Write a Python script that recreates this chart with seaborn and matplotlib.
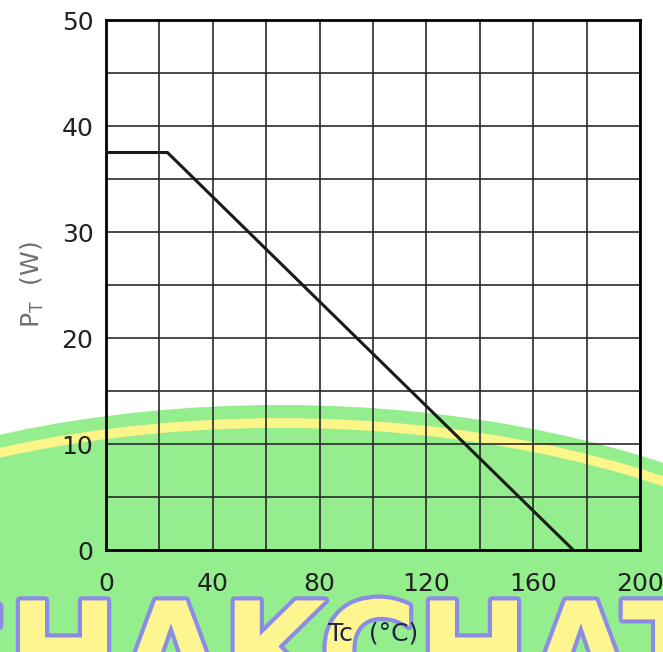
import numpy as np
import pandas as pd
import matplotlib
matplotlib.use("Agg")
import matplotlib.pyplot as plt
import matplotlib.patheffects as pe
from matplotlib.patches import Ellipse, Arc
import seaborn as sns

# derating curve
case_temp = [0, 23, 175]
power = [37.5, 37.5, 0]

x_ticks = [0, 40, 80, 120, 160, 200]
y_ticks = [0, 10, 20, 30, 40, 50]
x_grid = [0, 20, 40, 60, 80, 100, 120, 140, 160, 180, 200]
y_grid = [0, 5, 10, 15, 20, 25, 30, 35, 40, 45, 50]

df = pd.DataFrame({'Tc': case_temp, 'PT': power})

sns.set_style('white')
plt.rcParams['font.family'] = ['DejaVu Sans']

fig = plt.figure(figsize=(6.63, 6.52), dpi=100)
fig.patch.set_facecolor('white')

# watermark in the background
fig.patches.append(Ellipse((280 / 663, -108 / 652), 1400 / 663, 710 / 652,
                           transform=fig.transFigure, facecolor='#94ee8e',
                           edgecolor='none', zorder=0))
fig.patches.append(Arc((280 / 663, -108 / 652), 1364 / 663, 674 / 652,
                       transform=fig.transFigure, color='#fbf58a', lw=7, zorder=0.5))
wm = fig.text(0.47, -0.07, 'CHAKCHAT', fontsize=96, fontweight='bold',
              color='#fdf590', ha='center', va='baseline', zorder=1)
wm.set_path_effects([pe.withStroke(linewidth=6, foreground='#8c8ce6')])

ax = fig.add_axes([106 / 663, 1 - 550 / 652, 534 / 663, 530 / 652])
ax.set_facecolor('none')
ax.set_zorder(2)

for xv in x_grid:
    ax.axvline(xv, color='#2a2a2a', lw=1.2, zorder=1)
for yv in y_grid:
    ax.axhline(yv, color='#2a2a2a', lw=1.2, zorder=1)

sns.lineplot(data=df, x='Tc', y='PT', ax=ax, color='#1a1a1a', lw=2.2, zorder=3)

ax.set_xlim(0, 200)
ax.set_ylim(0, 50)
ax.set_xticks(x_ticks)
ax.set_yticks(y_ticks)
ax.tick_params(length=0, labelsize=18, colors='#222222')
ax.tick_params(axis='x', pad=16)
ax.tick_params(axis='y', pad=9)
for s in ax.spines.values():
    s.set_visible(True)
    s.set_color('black')
    s.set_linewidth(2)

ax.set_xlabel('Tc  (°C)', fontsize=18, color='#222244', labelpad=18)
ax.set_ylabel(r'P$_\mathregular{T}$  (W)', fontsize=18, color='#707070', labelpad=11)

fig.savefig('out.png', dpi=100)
